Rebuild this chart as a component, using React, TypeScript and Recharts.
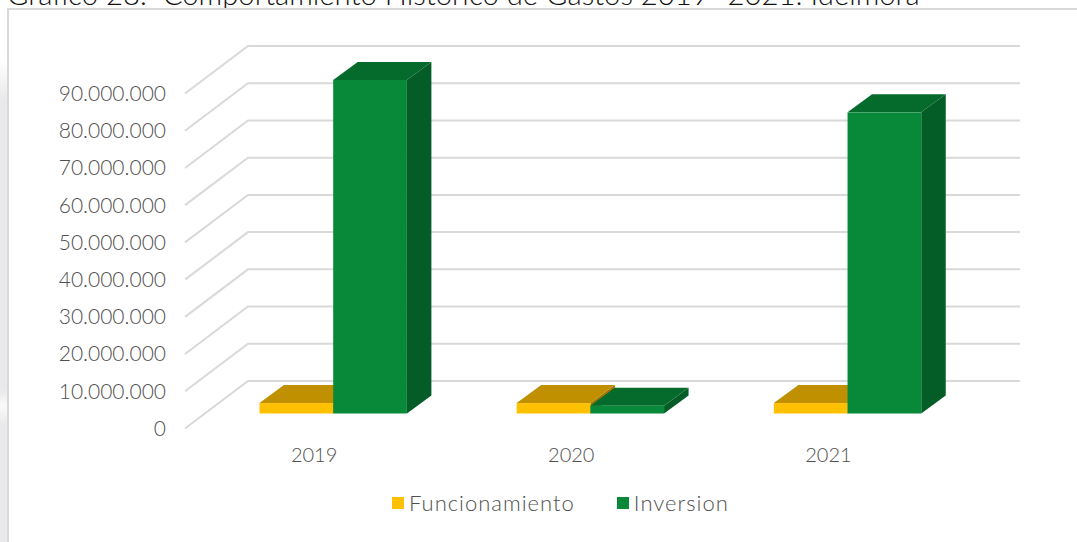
import { BarChart, Bar, XAxis, YAxis, CartesianGrid, Legend } from 'recharts'

const years = ['2019', '2020', '2021']
const funcionamiento = [2800000, 2800000, 2800000]
const inversion = [89600000, 2100000, 80900000]
const yTicks = [0, 10000000, 20000000, 30000000, 40000000, 50000000, 60000000, 70000000, 80000000, 90000000]

const data = years.map((year, i) => ({
  year,
  Funcionamiento: funcionamiento[i],
  Inversion: inversion[i],
}))

const FONT = 'Lato, "Noto Sans", sans-serif'
const TEXT = '#505050'
const GRID = '#d9d9d9'

// 3d look: how far the bar box and the chart floor reach away from the front face
const BAR_DX = 24.5
const BAR_DY = 18
const WALL_DY = 32.5
const FLOOR_DY = 15
const FLOOR_LEFT = 185
const WALL_LEFT = 248
const WALL_RIGHT = 1020

const formatTick = (v: number) => String(v).replace(/\B(?=(\d{3})+(?!\d))/g, '.')

function box(top: string, side: string) {
  return (props: any) => {
    const { x, y, width, height, fill } = props
    const r = x + width
    const b = y + height
    return (
      <g>
        <polygon points={`${r},${y} ${r + BAR_DX},${y - BAR_DY} ${r + BAR_DX},${b - BAR_DY} ${r},${b}`} fill={side} />
        <polygon points={`${x},${y} ${x + BAR_DX},${y - BAR_DY} ${r + BAR_DX},${y - BAR_DY} ${r},${y}`} fill={top} />
        <rect x={x} y={y} width={width} height={height} fill={fill} />
      </g>
    )
  }
}

function GridLine(props: any) {
  const y = props.y1
  return (
    <polyline
      key={y}
      points={`${FLOOR_LEFT},${y + FLOOR_DY} ${WALL_LEFT},${y - WALL_DY} ${WALL_RIGHT},${y - WALL_DY}`}
      fill="none"
      stroke={GRID}
      strokeWidth={2}
    />
  )
}

function YTick({ y, payload }: any) {
  return (
    <text x={166} y={y + FLOOR_DY} dy="0.35em" textAnchor="end" fontSize={21} fontWeight={300} fontFamily={FONT} fill={TEXT}>
      {formatTick(payload.value)}
    </text>
  )
}

function XTick({ x, payload }: any) {
  return (
    <text x={x - 19} y={455} dy="0.35em" textAnchor="middle" fontSize={20} fontWeight={300} fontFamily={FONT} fill={TEXT}>
      {payload.value}
    </text>
  )
}

function LegendRow({ payload }: any) {
  return (
    <div style={{ display: 'flex', alignItems: 'center', fontFamily: FONT, fontWeight: 300, fontSize: 22, letterSpacing: 1, color: TEXT, lineHeight: '26px' }}>
      {payload.map((p: any, i: number) => (
        <span key={p.value} style={{ display: 'flex', alignItems: 'center', marginLeft: i ? 42 : 0 }}>
          <span style={{ width: 12, height: 12, background: p.color, marginRight: 5 }} />
          {p.value}
        </span>
      ))}
    </div>
  )
}

export default function App() {
  return (
    <div style={{ position: 'absolute', left: 0, top: 0, width: 1077, height: 542, overflow: 'hidden', background: '#fff' }}>
      <div style={{ position: 'absolute', left: 0, top: 60, width: 7, height: 482, background: 'linear-gradient(#fff 0, #e8e9ea 40px, #e8e9ea 330px, #fafafa 345px, #e8e9ea 365px)' }} />
      <div style={{ position: 'absolute', left: 7, top: 8, width: 1070, height: 534, borderTop: `2px solid ${GRID}`, borderLeft: `2px solid ${GRID}`, boxSizing: 'border-box' }} />
      <div style={{ position: 'absolute', left: 7, top: 0, height: 8, width: 1070, overflow: 'hidden' }}>
        <div style={{ position: 'absolute', left: 0, top: -23, whiteSpace: 'nowrap', fontFamily: FONT, fontWeight: 300, fontSize: 29.3, lineHeight: '34px', color: '#111' }}>
          Gráfico 28.&nbsp; Comportamiento Histórico de Gastos 2019- 2021: Idelmora
        </div>
      </div>
      <div style={{ position: 'absolute', left: 0, top: 0 }}>
        <BarChart
          width={1077}
          height={542}
          data={data}
          barSize={73.7}
          barGap={0}
          margin={{ top: 78.5, right: 101, bottom: 88.5, left: 204.5 }}
        >
          <CartesianGrid vertical={false} horizontal={GridLine as any} />
          <XAxis dataKey="year" axisLine={false} tickLine={false} tick={XTick as any} interval={0} height={40} />
          <YAxis
            width={100}
            orientation="left"
            domain={[0, 90000000]}
            ticks={yTicks}
            interval={0}
            axisLine={false}
            tickLine={false}
            tick={YTick as any}
            mirror
          />
          <Legend
            layout="horizontal"
            align="center"
            verticalAlign="middle"
            content={LegendRow as any}
            wrapperStyle={{ position: 'absolute', left: 392, top: 490, width: 400, height: 26 }}
          />
          <Bar dataKey="Funcionamiento" fill="#ffc000" shape={box('#c09000', '#9c7500')} isAnimationActive={false} />
          <Bar dataKey="Inversion" fill="#08893a" shape={box('#056b2c', '#045c26')} isAnimationActive={false} />
        </BarChart>
      </div>
    </div>
  )
}
